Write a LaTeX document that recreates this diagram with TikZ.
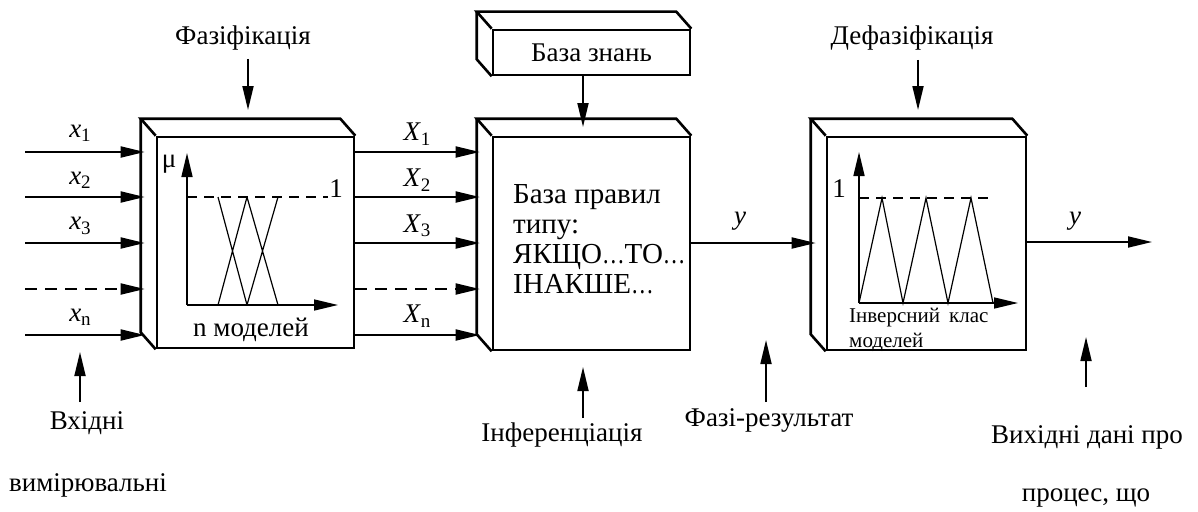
\documentclass[tikz,border=0pt]{standalone}
\usepackage{fontspec}
\setmainfont{Liberation Serif}
\usetikzlibrary{arrows.meta,calc}
\tikzset{
  face/.style={draw, line width=2.6pt, inner sep=0pt},
  edge3d/.style={line width=2.6pt, line join=miter},
  arr/.style={line width=1.8pt, -{Triangle[length=24pt,width=11pt]}},
  dasharr/.style={arr, dash pattern=on 12pt off 8pt},
  lbl/.style={font=\fontsize{27}{31}\selectfont, inner sep=0pt},
  rule/.style={font=\fontsize{29}{31}\selectfont, inner sep=0pt, anchor=base west},
  small/.style={font=\fontsize{21}{24}\selectfont, inner sep=0pt, anchor=base west},
  axis/.style={line width=1.6pt, -{Triangle[length=24pt,width=11pt]}},
  curve/.style={line width=1.2pt},
  level/.style={line width=1.4pt, dash pattern=on 10pt off 7pt},
}
% side and top panels of a box drawn in perspective
\newcommand\depthedges[1]{%
  \draw[edge3d] (#1.north west) -- ++(-15,-17) -- ($(#1.north east)+(-15,-17)$) -- (#1.north east);
  \draw[edge3d] ($(#1.north west)+(-15,-17)$) -- ($(#1.south west)+(-15,-17)$) -- (#1.south west);}
\newcommand\vsub[2]{\textit{#1}\raisebox{-0.35ex}{\fontsize{19}{19}\selectfont #2}}
\newcommand\tightdots{\scalebox{0.78}[1]{…}}
\begin{document}
\begin{tikzpicture}[x=1pt,y=-1pt]
\useasboundingbox (0,0) rectangle (1198,511);

% blocks
\node[face, minimum width=197pt, minimum height=211pt] (fz) at (255.5,242.5) {};
\node[face, minimum width=197pt, minimum height=213pt] (inf) at (591.5,243.5) {};
\node[face, minimum width=199pt, minimum height=213pt] (dfz) at (926.5,243.5) {};
\node[face, minimum width=197pt, minimum height=45pt, lbl] (kb) at (591.5,52.5) {База знань};
\depthedges{fz}
\depthedges{inf}
\depthedges{dfz}
\depthedges{kb}

% side anchors where the arrows meet the boxes
\coordinate (fzside) at ($(fz.west)+(-11,0)$);
\coordinate (infside) at ($(inf.west)+(-12,0)$);
\coordinate (dfzside) at ($(dfz.west)+(-10,0)$);

% input signals
\coordinate (i1) at (25,152);
\coordinate (i2) at (25,197);
\coordinate (i3) at (25,243);
\coordinate (i4) at (25,289);
\coordinate (i5) at (25,335);
\draw[arr] (i1) -- (i1 -| fzside);
\draw[arr] (i2) -- (i2 -| fzside);
\draw[arr] (i3) -- (i3 -| fzside);
\draw[dasharr] (i4) -- (i4 -| fzside);
\draw[arr] (i5) -- (i5 -| fzside);
\node[lbl] (lx1) at (80,133) {\vsub{x}{1}};
\node[lbl] (lx2) at (80,180) {\vsub{x}{2}};
\node[lbl] (lx3) at (80,226) {\vsub{x}{3}};
\node[lbl] (lxn) at (80,317) {\vsub{x}{n}};

% fuzzy sets
\draw[arr] (i1 -| fz.east) -- (i1 -| infside);
\draw[arr] (i2 -| fz.east) -- (i2 -| infside);
\draw[arr] (i3 -| fz.east) -- (i3 -| infside);
\draw[dasharr] (i4 -| fz.east) -- (i4 -| infside);
\draw[arr] (i5 -| fz.east) -- (i5 -| infside);
\node[lbl] (lX1) at (417,134) {\vsub{X}{1}};
\node[lbl] (lX2) at (417,180) {\vsub{X}{2}};
\node[lbl] (lX3) at (417,226) {\vsub{X}{3}};
\node[lbl] (lXn) at (417,316) {\vsub{X}{n}};

% membership functions of the fuzzification block
\coordinate (o1) at (187,305);
\draw[axis] (o1) -- (187,153);
\draw[axis] (o1) -- (338,305);
\draw[level] (187,197) -- (328,197);
\node[lbl] (one1) at (336,189) {1};
\node[lbl, font=\fontsize{27}{29}\selectfont] (mu) at (169,164) {μ};
\draw[curve] (218,197) -- (247,305) (218,305) -- (247,197)
             (247,197) -- (278,305) (247,305) -- (278,197);
\node[lbl] (nm) at (251,330) {n моделей};

% rule base
\node[rule] (r1) at (513,203) {База правил};
\node[rule] (r2) at (513,233) {типу:};
\node[rule] (r3) at (513,263) {ЯКЩО\tightdots ТО\tightdots};
\node[rule] (r4) at (513,293) {ІНАКШЕ\tightdots};

% fuzzy result
\coordinate (yf) at (690,243);
\draw[arr] (inf.east |- yf) -- (yf -| dfzside);
\node[lbl] (ly1) at (740,221) {\textit{y}};

% defuzzification graph
\coordinate (o3) at (859,303);
\draw[axis] (o3) -- (859,152);
\draw[axis] (o3) -- (1018,303);
\draw[level] (859,198) -- (995,198);
\node[lbl] (one3) at (839,189) {1};
\draw[curve, line join=miter] (859,303) -- (882,198) -- (903,303) -- (926,198) -- (948,303) -- (971,198) -- (993,303);
\node[small] (inv1) at (849,322) {Інверсний\hspace{9pt}клас};
\node[small] (inv2) at (849,347) {моделей};

% output
\coordinate (yo) at (1152,242);
\draw[arr] (dfz.east |- yo) -- (yo);
\node[lbl] (ly2) at (1075,221) {\textit{y}};

% stage captions with their arrows
\node[lbl] (tfz) at (243,38) {Фазіфікація};
\coordinate (afz0) at (248,59);
\coordinate (afz) at (248,110);
\draw[arr] (afz0) -- (afz);
\node[lbl] (tdfz) at (912,38) {Дефазіфікація};
\coordinate (adfz0) at (918,60);
\coordinate (adfz) at (918,110);
\draw[arr] (adfz0) -- (adfz);
\coordinate (akb) at (583,127);
\draw[arr] (kb.south -| akb) -- (akb);

\node[lbl] (tin1) at (87,423) {Вхідні};
\node[lbl] (tin2) at (88,485) {вимірювальні};
\coordinate (ain0) at (80,402);
\coordinate (ain) at (80,352);
\draw[arr] (ain0) -- (ain);

\node[lbl] (tinf) at (562,435) {Інференціація};
\coordinate (ainf0) at (583,418);
\coordinate (ainf) at (583,367);
\draw[arr] (ainf0) -- (ainf);

\node[lbl] (tres) at (769,420) {Фазі-результат};
\coordinate (ares0) at (766,402);
\coordinate (ares) at (766,340);
\draw[arr] (ares0) -- (ares);

\node[lbl] (tout1) at (1087,437) {Вихідні дані про};
\node[lbl] (tout2) at (1086,498) {процес, що};
\coordinate (aout0) at (1086,387);
\coordinate (aout) at (1086,337);
\draw[arr] (aout0) -- (aout);
\end{tikzpicture}
\end{document}
